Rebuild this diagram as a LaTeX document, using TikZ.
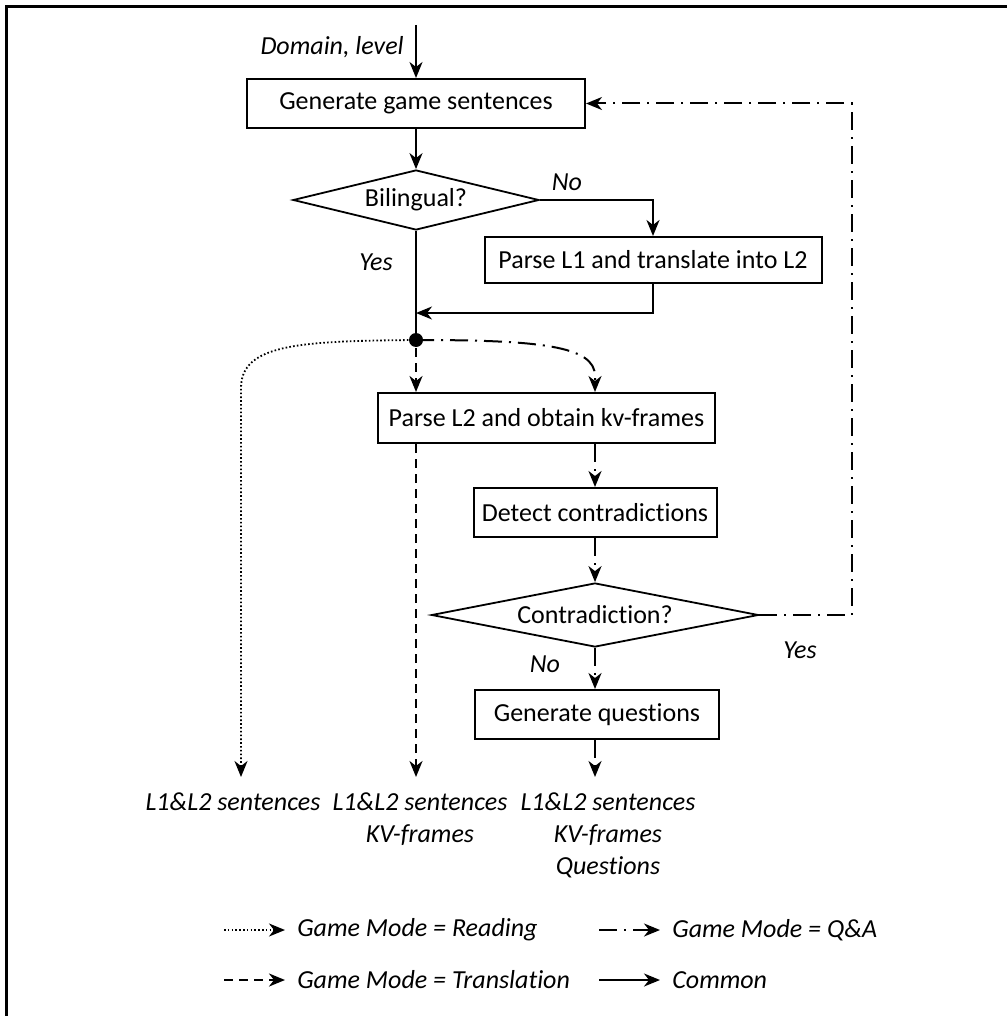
\documentclass[tikz,border=0pt]{standalone}
\usepackage{fontspec}
\setmainfont{Carlito}[Ligatures=NoCommon]
\usetikzlibrary{arrows.meta,shapes.geometric}
\begin{document}
\begin{tikzpicture}[x=1pt,y=-1pt,
  font=\fontsize{26}{32}\selectfont,
  line width=2pt,
  tip/.style={-{Stealth[length=16pt,width=13pt,inset=5pt]}},
  readpath/.style={dash pattern=on 1.6pt off 2.2pt, line width=1.8pt},
  transpath/.style={dash pattern=on 9pt off 6pt, line width=2.2pt},
  qapath/.style={dash pattern=on 18pt off 7pt on 2pt off 7pt},
  stepbox/.style={draw, rectangle, inner sep=0pt},
  decision/.style={draw, diamond, inner sep=0pt, line width=1.8pt},
  lab/.style={font=\fontsize{26}{32}\selectfont\itshape},
  outtext/.style={lab, anchor=north, align=center, inner xsep=0pt, inner ysep=15pt},
]
\useasboundingbox (0,0) rectangle (1007,1016);

% partial frame
\draw[line width=3pt] (6,1016) -- (6,7) -- (1007,7);

% process steps
\node[stepbox, minimum width=338pt, minimum height=49pt] (gen) at (416,103.5) {Generate game sentences};
\node[decision, minimum width=246pt, minimum height=60pt, shape aspect=4] (bil) at (416,200) {Bilingual?};
\node[stepbox, minimum width=337pt, minimum height=46pt] (pl1) at (653,260) {Parse L1 and translate into L2};
\node[circle, fill, inner sep=0pt, minimum size=14pt] (dot) at (416,340) {};
\node[stepbox, minimum width=337pt, minimum height=50pt] (pl2) at (546.5,418) {Parse L2 and obtain kv-frames};
\node[stepbox, minimum width=243pt, minimum height=49pt] (det) at (595,512.5) {Detect contradictions};
\node[decision, minimum width=327pt, minimum height=64pt, shape aspect=5] (cdia) at (595,615) {Contradiction?};
\node[stepbox, minimum width=244pt, minimum height=49pt] (genq) at (597,714.5) {Generate questions};

% outputs
\node[outtext] (o1) at (233,777) {L1\&L2 sentences};
\node[outtext] (o2) at (420,777) {L1\&L2 sentences\\KV-frames};
\node[outtext] (o3) at (608,777) {L1\&L2 sentences\\KV-frames\\Questions};

% labels
\node[lab, anchor=east] (domlab) at (408,47) {Domain, level};
\node[lab] (nobil) at (567,182) {No};
\node[lab] (yesbil) at (376,262) {Yes};
\node[lab] (yescon) at (800,650) {Yes};
\node[lab] (nocon) at (545,664) {No};

% helper coordinates
\coordinate (start) at (416,25);
\coordinate (merge) at (416,313);
\coordinate (rdturn) at (241,388);
\coordinate (qaturn) at (595,376);
\coordinate (loopx) at (852,0);

% common path
\draw[tip] (start) -- (gen.north);
\draw[tip] (gen.south) -- (bil.north);
\draw[tip] (bil.east) -| (pl1.north);
\draw[tip] (pl1.south) |- (merge);
\draw (bil.south) -- (dot.center);

% reading path
\draw[readpath, tip] (dot.center) .. controls (300,341) and (241,344) .. (rdturn) -- (rdturn |- o1.north);

% translation path
\draw[transpath, tip] (dot.south) -- (dot.south |- pl2.north);
\draw[transpath, tip] (dot |- pl2.south) -- (dot |- o2.north);

% Q&A path
\draw[qapath, tip] (dot.center) .. controls (540,340) and (595,346) .. (qaturn) -- (qaturn |- pl2.north);
\draw[qapath, tip] (det |- pl2.south) -- (det.north);
\draw[qapath, tip] (det.south) -- (cdia.north);
\draw[qapath, tip] (cdia.south) -- (cdia.south |- genq.north);
\draw[qapath, tip] (cdia.south |- genq.south) -- (cdia.south |- o3.north);
\draw[qapath, tip] (cdia.east) -- (cdia.east -| loopx) |- (gen.east);

% legend
\coordinate (l1a) at (224,930);
\coordinate (l1b) at (285,930);
\coordinate (l2a) at (599,930);
\coordinate (l2b) at (660,930);
\coordinate (l3a) at (224,980);
\coordinate (l3b) at (285,980);
\coordinate (l4a) at (599,980);
\coordinate (l4b) at (660,980);
\draw[readpath, tip] (l1a) -- (l1b);
\node[lab, anchor=west] (lg1) at (293,930) {Game Mode = Reading};
\draw[qapath, tip] (l2a) -- (l2b);
\node[lab, anchor=west] (lg2) at (668,930) {Game Mode = Q\&A};
\draw[transpath, tip] (l3a) -- (l3b);
\node[lab, anchor=west] (lg3) at (293,980) {Game Mode = Translation};
\draw[tip] (l4a) -- (l4b);
\node[lab, anchor=west] (lg4) at (668,980) {Common};
\end{tikzpicture}
\end{document}
